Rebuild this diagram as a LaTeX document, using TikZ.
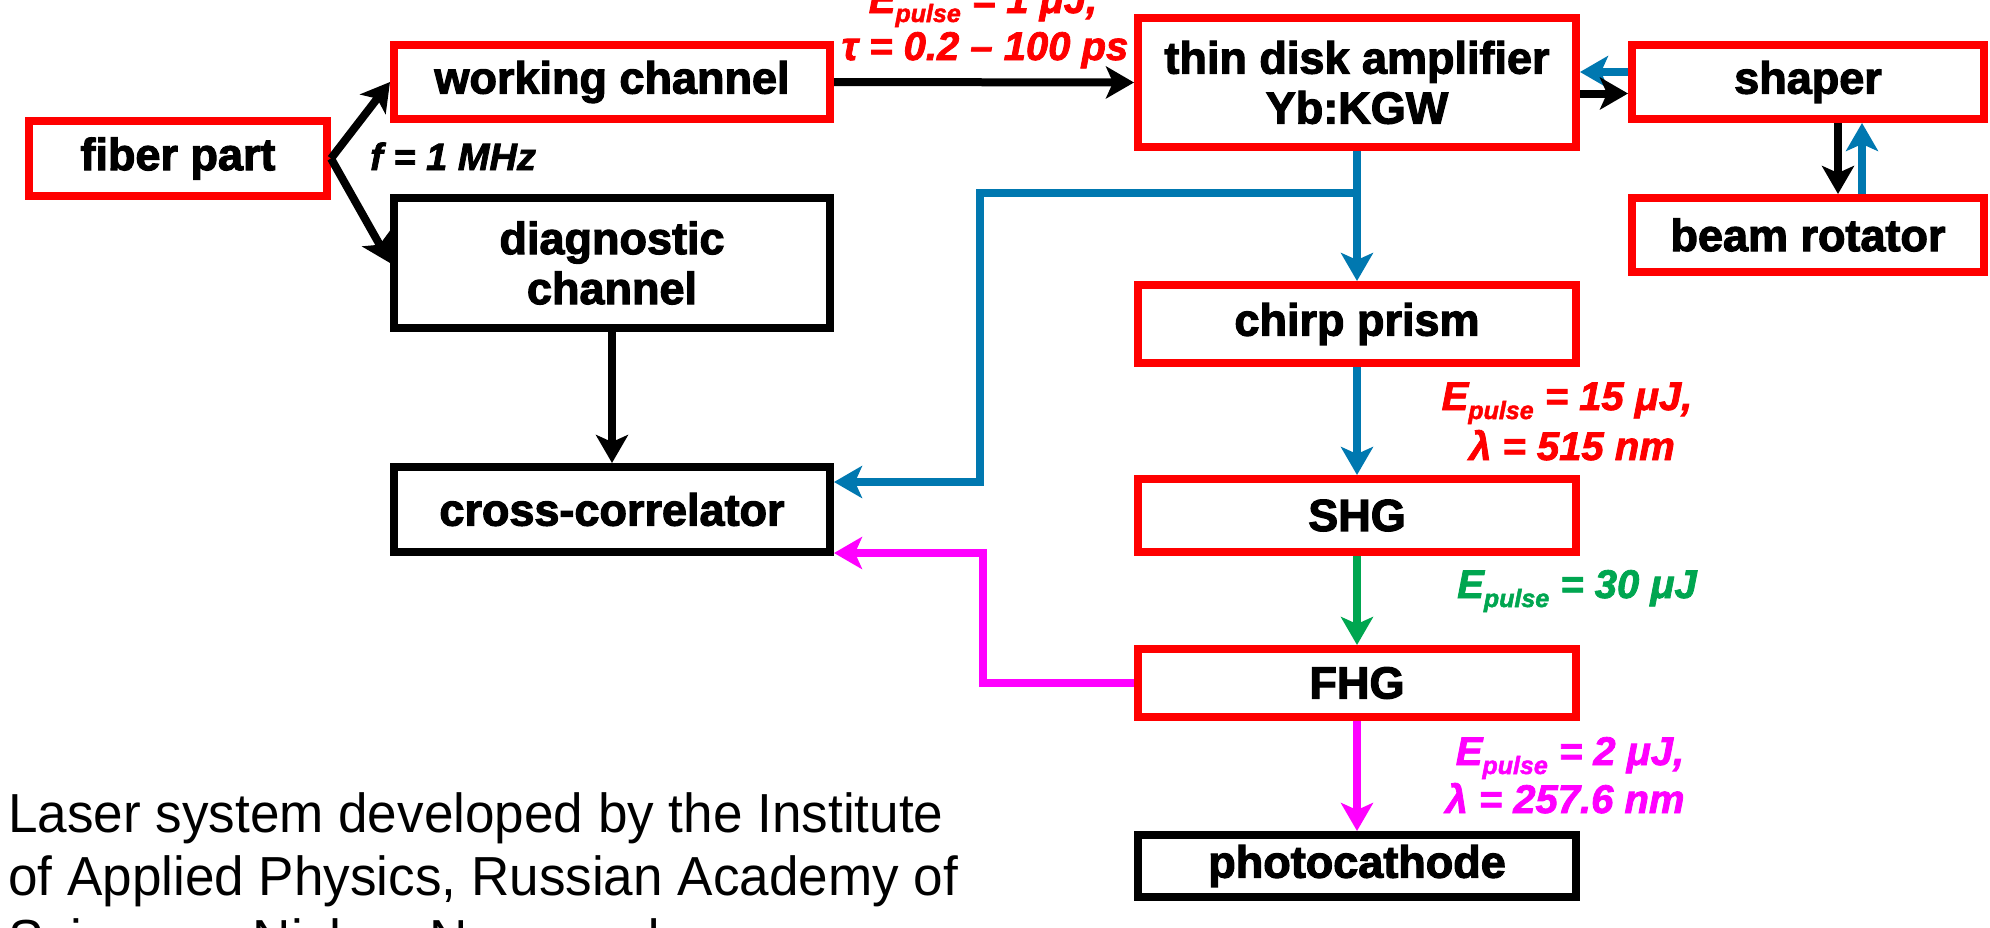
\documentclass[tikz,border=0pt]{standalone}
\usepackage{fontspec}
\setmainfont{Liberation Sans}
\newfontfamily\heavy{Liberation Sans}[FakeBold=2.5]
\newfontfamily\heavylbl{Liberation Sans}[FakeBold=2]
\newfontfamily\capfont{Liberation Sans}[FakeStretch=0.965]
\usetikzlibrary{arrows.meta}
\definecolor{cred}{RGB}{255,0,0}
\definecolor{cblue}{RGB}{0,120,176}
\definecolor{cgreen}{RGB}{0,166,80}
\definecolor{cmag}{RGB}{255,0,255}
\newcommand{\Epulse}{E\raisebox{-9pt}{\fontsize{25}{25}\selectfont pulse}}
\tikzset{
  box/.style={draw, line width=8pt, inner sep=0pt, align=center,
    font=\heavy\bfseries\fontsize{45}{50}\selectfont},
  redbox/.style={box, draw=cred},
  blackbox/.style={box, draw=black},
  conn/.style={line width=8pt, -{Stealth[length=28pt,width=32pt,inset=7pt]}},
  lbl/.style={anchor=base, inner sep=0pt, font=\heavylbl\bfseries\itshape\fontsize{40}{50}\selectfont},
  captxt/.style={anchor=base west, inner sep=0pt, font=\capfont\fontsize{55}{63}\selectfont}
}
\begin{document}
\begin{tikzpicture}[x=1pt,y=-1pt]
\useasboundingbox[fill=white] (0,0) rectangle (1990,927);
% boxes
\node[redbox, minimum width=298pt, minimum height=75pt] (fiber) at (178,158.5) {fiber part};
\node[redbox, minimum width=436pt, minimum height=74pt] (work) at (612,82) {working channel};
\node[blackbox, minimum width=436pt, minimum height=130pt] (diag) at (612,263) {diagnostic\\channel};
\node[blackbox, minimum width=436pt, minimum height=85pt] (cross) at (612,509.5) {cross-correlator};
\node[redbox, minimum width=438pt, minimum height=129pt] (amp) at (1357,82.5) {thin disk amplifier\\Yb:KGW};
\node[redbox, minimum width=352pt, minimum height=74pt] (shaper) at (1808,82) {shaper};
\node[redbox, minimum width=352pt, minimum height=74pt] (beam) at (1808,235) {beam rotator};
\node[redbox, minimum width=438pt, minimum height=78pt] (chirp) at (1357,324) {chirp prism};
\node[redbox, minimum width=438pt, minimum height=73pt] (shg) at (1357,515.5) {SHG};
\node[redbox, minimum width=438pt, minimum height=68pt] (fhg) at (1357,683) {FHG};
\node[blackbox, minimum width=438pt, minimum height=62pt] (photo) at (1357,866) {photocathode};
% connectors
\draw[conn] (fiber.east) -- (work.west);
\draw[conn] (fiber.east) -- (diag.west);
\draw[conn] (work.east) -- (amp.west);
\draw[conn] (diag.south) -- (cross.north);
\draw[conn, cblue] ([yshift=10pt]shaper.west) -- ([yshift=10pt]shaper.west -| amp.east);
\draw[conn] ([yshift=-11pt]amp.east) -- ([yshift=-11pt]amp.east -| shaper.west);
\draw[conn] ([xshift=30pt]shaper.south) -- ([xshift=30pt]beam.north);
\draw[conn, cblue] ([xshift=54pt]beam.north) -- ([xshift=54pt]shaper.south);
\draw[conn, cblue] (amp.south) -- (chirp.north);
\coordinate (j1) at (1357,193);
\coordinate (b1) at (980,193);
\coordinate (b2) at (980,482);
\draw[conn, cblue] (j1) -- (b1) -- (b2) -- (b2 -| cross.east);
\draw[conn, cblue] (chirp.south) -- (shg.north);
\draw[conn, cgreen] (shg.south) -- (fhg.north);
\draw[conn, cmag] (fhg.south) -- (photo.north);
\coordinate (m1) at (983,683);
\coordinate (m2) at (983,553);
\draw[conn, cmag] (fhg.west) -- (m1) -- (m2) -- (m2 -| cross.east);
% labels
\node[lbl, cred] (t1) at (983,13) {\Epulse{} = 1 μJ,};
\node[lbl, cred] (t2) at (985,60) {τ = 0.2 – 100 ps};
\node[lbl, anchor=base west, font=\heavylbl\bfseries\itshape\fontsize{38}{40}\selectfont] (fr) at (370,170) {f = 1 MHz};
\node[lbl, cred] (e15a) at (1567,410) {\Epulse{} = 15 μJ,};
\node[lbl, cred] (e15b) at (1572,460) {λ = 515 nm};
\node[lbl, cgreen] (e30) at (1577,598) {\Epulse{} = 30 μJ};
\node[lbl, cmag] (e2a) at (1570,765) {\Epulse{} = 2 μJ,};
\node[lbl, cmag] (e2b) at (1565,813) {λ = 257.6 nm};
% caption
\node[captxt] (c1) at (8,832) {Laser system developed by the Institute};
\node[captxt] (c2) at (8,895) {of Applied Physics, Russian Academy of};
\node[captxt] (c3) at (8,958) {Sciences, Nizhny Novgorod};
\end{tikzpicture}
\end{document}
